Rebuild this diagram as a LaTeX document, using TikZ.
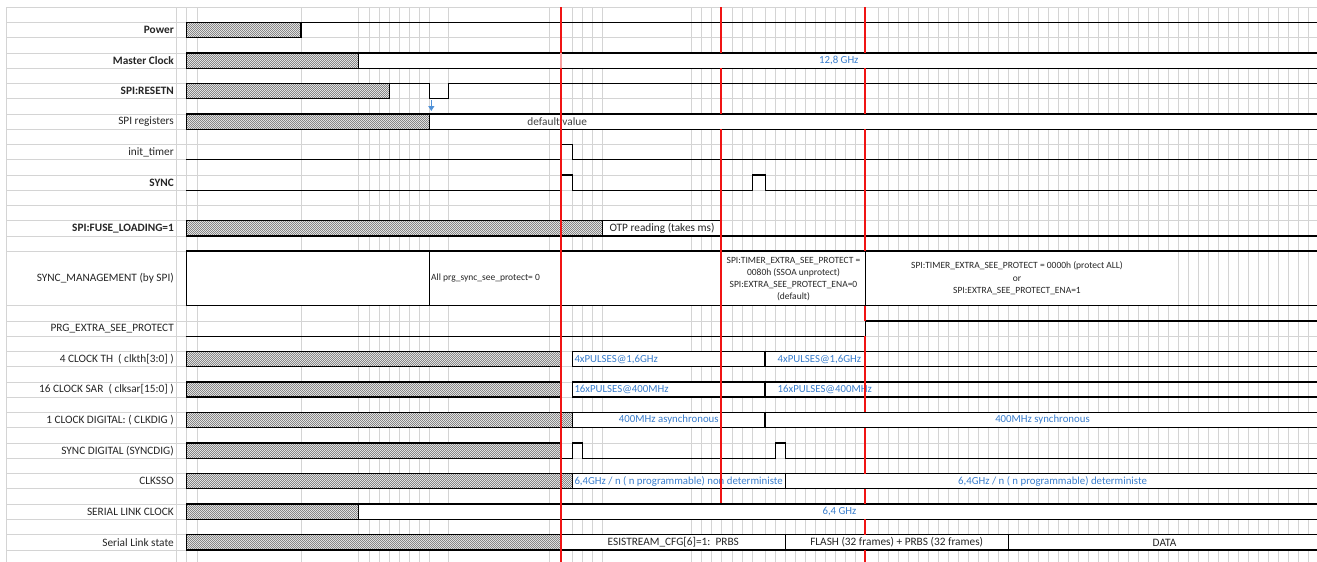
\documentclass[tikz,border=0pt]{standalone}
\usepackage{fontspec}
\setmainfont{Carlito}
\usetikzlibrary{arrows.meta}
\definecolor{gridgrey}{RGB}{212,212,212}
\definecolor{xlblue}{RGB}{58,126,205}
\definecolor{arrblue}{RGB}{80,145,215}
\definecolor{xlred}{RGB}{240,20,20}
\definecolor{xlpink}{RGB}{248,160,160}
\definecolor{txt}{RGB}{38,38,38}
\definecolor{chkbg}{RGB}{225,225,225}
\definecolor{chkfg}{RGB}{135,135,135}
\newcommand{\xlhatch}[4]{%
 \fill[chkbg] (#1,#2) rectangle (#3,#4);
 \begin{scope}
 \clip (#1,#2) rectangle (#3,#4);
 \pgfmathsetmacro{\hy}{floor(#2)}
 \foreach \yy in {0,2,...,16} \draw[chkfg,line width=1pt,dash pattern=on 1pt off 1pt] (186,{\hy+\yy+0.5}) -- (#3,{\hy+\yy+0.5});
 \foreach \yy in {1,3,...,15} \draw[chkfg,line width=1pt,dash pattern=on 1pt off 1pt,dash phase=1pt] (186,{\hy+\yy+0.5}) -- (#3,{\hy+\yy+0.5});
 \end{scope}
 \draw[sigln] (#1,#2) rectangle (#3,#4);}
\begin{document}
\begin{tikzpicture}[x=1pt,y=-1pt,
 gridln/.style={draw=gridgrey,line width=0.9pt},
 sigln/.style={draw=black,line width=1.3pt,line join=miter},
 redln/.style={draw=xlred,line width=1.9pt},
 lbl/.style={anchor=east,font=\fontsize{11.3}{13}\selectfont,text=txt,inner sep=0pt},
 lblb/.style={anchor=east,font=\fontsize{11.3}{13}\selectfont\bfseries,text=txt,inner sep=0pt},
 btxt/.style={font=\fontsize{10.8}{13}\selectfont,text=xlblue,inner sep=0pt},
 dtxt/.style={font=\fontsize{11.3}{13}\selectfont,text=txt,inner sep=0pt},
 stxt/.style={font=\fontsize{9.5}{12}\selectfont,text=txt,inner sep=0pt,align=center},
]
\useasboundingbox (0,0) rectangle (1317,562);
\fill[white] (0,0) rectangle (1317,562);
% ---------- grid ----------
\foreach \y in {7.3,22.3,37.7,53,68.3,83.3,98.7,114,129.3,144.3,159.7,175,190.3,205.5,220.7,236,251,305.7,321,336.3,351.7,366.7,382,397,412.3,427.7,443,458.3,473.7,488.7,504,519.3,534.7,550}
  \draw[gridln] (6,\y) -- (1317,\y);
\foreach \x in {6,176.3,186.3,197.7,301,358.7,369,379,389.3,399.3,409.7,419.7,429.7,448.3,549,561.3,572.3,582.7,592.7,602.7,691.7,701.7,711.7,721.3,732,742,752.3,765.3,775.3,785.3,795.3,805.3,815.3,825.3,835.3,845.3,855.3,865.3}
  \draw[gridln] (\x,7.3) -- (\x,562);
\foreach \k in {0,...,43}
  \draw[gridln] ({878.3+10*\k},7.3) -- ({878.3+10*\k},562);
% ---------- white (opaque) boxes ----------
\fill[white] (358.7,53) rectangle (1317,68.3);
\fill[white] (429.7,114) rectangle (1317,129.3);
\fill[white] (602.7,220.7) rectangle (721.3,236);
\fill[white] (186.3,251) rectangle (1170,305.7);
\fill[white] (572.3,351.7) rectangle (865.3,366.7);
\fill[white] (572.3,382) rectangle (865.3,397);
\fill[white] (572.3,412.3) rectangle (1317,427.7);
\fill[white] (572.3,473.7) rectangle (1317,488.7);
\fill[white] (358.7,504) rectangle (1317,519.3);
\fill[white] (561.3,534.7) rectangle (1317,550);
% ---------- labels ----------
\node[lblb] (lPow) at (174,30) {Power};
\node[lblb] (lMclk) at (174,60.7) {Master Clock};
\node[lblb] (lRst) at (174,91) {SPI:RESETN};
\node[lbl] (lReg) at (174,121.7) {SPI registers};
\node[lbl] (lTim) at (174,152) {init\_timer};
\node[lblb] (lSync) at (174,182.7) {SYNC};
\node[lblb] (lFuse) at (174,228.4) {SPI:FUSE\_LOADING=1};
\node[lbl] (lMgmt) at (174,278.4) {SYNC\_MANAGEMENT (by SPI)};
\node[lbl] (lPrg) at (174,328.7) {PRG\_EXTRA\_SEE\_PROTECT};
\node[lbl] (lTh) at (174,359.2) {4 CLOCK TH\ \ ( clkth[3:0] )};
\node[lbl] (lSar) at (174,389.5) {16 CLOCK SAR\ \ ( clksar[15:0] )};
\node[lbl] (lDig) at (174,420) {1 CLOCK DIGITAL: ( CLKDIG )};
\node[lbl] (lSdig) at (174,450.7) {SYNC DIGITAL (SYNCDIG)};
\node[lbl] (lSso) at (174,481.2) {CLKSSO};
\node[lbl] (lSlc) at (174,511.7) {SERIAL LINK CLOCK};
\node[lbl] (lSls) at (174,542.4) {Serial Link state};
% ---------- signals ----------
% Power
\xlhatch{186.3}{22.3}{301}{37.7}
\draw[sigln] (301,22.3) -- (1317,22.3);
% Master clock
\xlhatch{186.3}{53}{358.7}{68.3}
\draw[sigln] (358.7,53) -- (1317,53) (358.7,68.3) -- (1317,68.3);
% SPI:RESETN
\xlhatch{186.3}{83.3}{389.3}{98.7}
\draw[sigln] (389.3,83.3) -- (429.7,83.3) -- (429.7,98.7) -- (448.3,98.7) -- (448.3,83.3) -- (1317,83.3);
\coordinate (arrS) at (431.3,100);
\coordinate (arrE) at (431.3,111);
\draw[arrblue,line width=1.4pt,-{Triangle[width=6pt,length=5pt]}] (arrS) -- (arrE);
% SPI registers
\xlhatch{186.3}{114}{429.7}{129.3}
\draw[sigln] (429.7,114) -- (1317,114) (429.7,129.3) -- (1317,129.3);
% init_timer
\draw[sigln] (186.3,159.7) -- (561.3,159.7) -- (561.3,144.3) -- (572.3,144.3) -- (572.3,159.7) -- (1317,159.7);
% SYNC
\draw[sigln] (186.3,190.3) -- (561.3,190.3) -- (561.3,175) -- (572.3,175) -- (572.3,190.3) -- (752.3,190.3) -- (752.3,175) -- (765.3,175) -- (765.3,190.3) -- (1317,190.3);
% FUSE LOADING
\xlhatch{186.3}{220.7}{602.7}{236}
\draw[sigln] (602.7,220.7) rectangle (721.3,236);
\draw[sigln] (721.3,236) -- (1317,236);
% SYNC MANAGEMENT
\draw[sigln] (1317,251) -- (186.3,251) -- (186.3,305.7) -- (1317,305.7);
\draw[sigln] (429.7,251) -- (429.7,305.7) (721.3,251) -- (721.3,305.7) (865.3,251) -- (865.3,305.7);
% PRG_EXTRA_SEE_PROTECT
\draw[sigln] (186.3,336.3) -- (865.3,336.3) -- (865.3,321) -- (1317,321);
% 4 CLOCK TH
\xlhatch{186.3}{351.7}{561.3}{366.7}
\draw[sigln] (572.3,351.7) rectangle (765,366.7);
\draw[sigln] (765,351.7) -- (1317,351.7) (765,366.7) -- (1317,366.7);
% 16 CLOCK SAR
\xlhatch{186.3}{382}{561.3}{397}
\draw[sigln] (572.3,382) rectangle (765,397);
\draw[sigln] (765,382) -- (1317,382) (765,397) -- (1317,397);
% 1 CLOCK DIGITAL
\xlhatch{186.3}{412.3}{572.3}{427.7}
\draw[sigln] (572.3,412.3) rectangle (765,427.7);
\draw[sigln] (765,412.3) -- (1317,412.3) (765,427.7) -- (1317,427.7);
% SYNC DIGITAL
\xlhatch{186.3}{443}{561.3}{458.3}
\draw[sigln] (561.3,458.3) -- (572.3,458.3) -- (572.3,443) -- (582.7,443) -- (582.7,458.3) -- (775.3,458.3) -- (775.3,443) -- (785.3,443) -- (785.3,458.3) -- (1317,458.3);
% CLKSSO
\xlhatch{186.3}{473.7}{572.3}{488.7}
\draw[sigln] (572.3,473.7) rectangle (785.3,488.7);
\draw[sigln] (785.3,473.7) -- (1317,473.7) (785.3,488.7) -- (1317,488.7);
% SERIAL LINK CLOCK
\xlhatch{186.3}{504}{358.7}{519.3}
\draw[sigln] (358.7,504) -- (1317,504) (358.7,519.3) -- (1317,519.3);
% Serial link state
\xlhatch{186.3}{534.7}{561.3}{550}
\draw[sigln] (561.3,534.7) -- (1317,534.7) (561.3,550) -- (1317,550);
\draw[sigln] (785.3,534.7) -- (785.3,550) (1008.7,534.7) -- (1008.7,550);
% ---------- texts in the chart ----------
\node[btxt] (tMclk) at (838.8,60.7) {12,8 GHz};
\node[dtxt,text=black!75] (tDef) at (557.2,121.7) {default value};
\node[dtxt] (tOtp) at (662,228.4) {OTP reading (takes ms)};
\node[stxt,anchor=west] (tMgA) at (431,278.4) {All prg\_sync\_see\_protect= 0};
\node[stxt] (tMgB) at (793.5,278.6) {SPI:TIMER\_EXTRA\_SEE\_PROTECT =\\0080h (SSOA unprotect)\\SPI:EXTRA\_SEE\_PROTECT\_ENA=0\\(default)};
\node[stxt,font=\fontsize{9.5}{12.3}\selectfont] (tMgC) at (1017,278.4) {SPI:TIMER\_EXTRA\_SEE\_PROTECT = 0000h (protect ALL)\\or\\SPI:EXTRA\_SEE\_PROTECT\_ENA=1};
\node[btxt,anchor=west] (tTh1) at (574.3,359.2) {4xPULSES@1,6GHz};
\node[btxt,anchor=west] (tTh2) at (777.5,359.2) {4xPULSES@1,6GHz};
\node[btxt,anchor=west] (tSar1) at (574.3,389.5) {16xPULSES@400MHz};
\node[btxt,anchor=west] (tSar2) at (777.5,389.5) {16xPULSES@400MHz};
\node[btxt] (tAsyn) at (668.8,420) {400MHz asynchronous};
\node[btxt] (tSyn) at (1042.5,420) {400MHz synchronous};
\node[btxt,anchor=west] (tNdet) at (574.3,481.2) {6,4GHz / n ( n programmable) non deterministe};
\node[btxt] (tDet) at (1052.5,481.2) {6,4GHz / n ( n programmable) deterministe};
\node[btxt] (tSlc) at (839.5,511.7) {6,4 GHz};
\node[dtxt] (tPrbs) at (673.3,542.4) {ESISTREAM\_CFG[6]=1:\ \ PRBS};
\node[dtxt] (tFlash) at (896.7,542.4) {FLASH (32 frames) + PRBS (32 frames)};
\node[dtxt] (tData) at (1164.5,542.4) {DATA};
% ---------- red markers ----------
\draw[redln] (561.3,7.3) -- (561.3,53);
\draw[redln,draw=xlpink] (561.3,53) -- (561.3,68.3);
\draw[redln] (561.3,68.3) -- (561.3,562);
\draw[redln] (721.3,7.3) -- (721.3,53) (721.3,68.3) -- (721.3,114) (721.3,129.3) -- (721.3,503.3);
\draw[redln] (865.3,7.3) -- (865.3,53) (865.3,68.3) -- (865.3,114) (865.3,129.3) -- (865.3,251)
  (865.3,305.7) -- (865.3,321) (865.3,336.3) -- (865.3,412.3) (865.3,427.7) -- (865.3,473.7)
  (865.3,488.7) -- (865.3,504) (865.3,519.3) -- (865.3,534.7) (865.3,550) -- (865.3,562);
\end{tikzpicture}
\end{document}
